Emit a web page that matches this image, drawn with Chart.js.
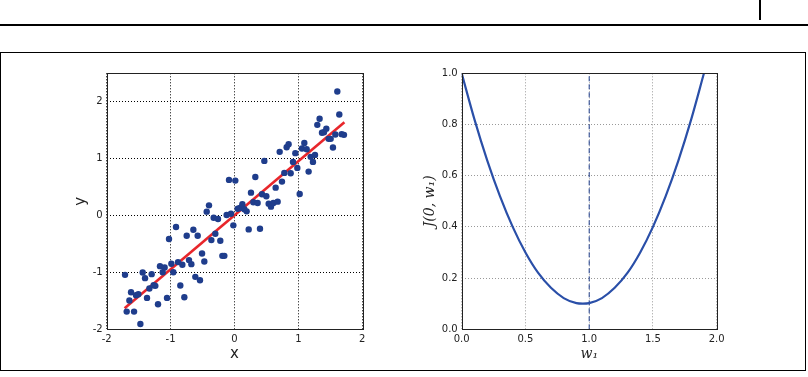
<!DOCTYPE html>
<html>
<head>
<meta charset="utf-8">
<script src="https://cdn.jsdelivr.net/npm/chart.js@4/dist/chart.umd.min.js"></script>
<style>
  body { margin: 0; background: #fff; width: 808px; height: 377px; position: relative; overflow: hidden; }
  #rule { position: absolute; left: 0; top: 24px; width: 808px; height: 2px; background: #000; }
  #mark { position: absolute; left: 759px; top: 0; width: 2px; height: 20px; background: #000; }
  #frame { position: absolute; left: 0; top: 52px; width: 804px; height: 317px; border: 1px solid #000; }
  .plot { position: absolute; top: 60px; width: 340px; height: 310px; }
  #left { left: 40px; }
  #right { left: 400px; }
</style>
</head>
<body>
<div id="rule"></div>
<div id="mark"></div>
<div id="frame"></div>
<div class="plot" id="left"><canvas id="scatter-chart"></canvas></div>
<div class="plot" id="right"><canvas id="cost-chart"></canvas></div>
<script>
const scatterX = [-1.713, -1.687, -1.645, -1.619, -1.572, -1.541, -1.505, -1.473, -1.437, -1.400,
  -1.369, -1.332, -1.296, -1.265, -1.239, -1.197, -1.166, -1.124, -1.093, -1.056,
  -1.025, -0.988, -0.957, -0.915, -0.884, -0.848, -0.816, -0.785, -0.748, -0.712,
  -0.675, -0.644, -0.613, -0.576, -0.540, -0.508, -0.472, -0.435, -0.399, -0.362,
  -0.326, -0.300, -0.258, -0.222, -0.190, -0.159, -0.123, -0.086, -0.055, -0.018,
  0.013, 0.050, 0.086, 0.123, 0.154, 0.190, 0.222, 0.258, 0.295, 0.326,
  0.362, 0.399, 0.430, 0.467, 0.498, 0.535, 0.571, 0.608, 0.644, 0.675,
  0.707, 0.743, 0.780, 0.816, 0.847, 0.879, 0.916, 0.952, 0.983, 1.020,
  1.056, 1.093, 1.129, 1.160, 1.192, 1.228, 1.260, 1.296, 1.332, 1.369,
  1.400, 1.437, 1.473, 1.505, 1.541, 1.578, 1.609, 1.640, 1.677, 1.713];
const scatterY = [-1.043, -1.689, -1.495, -1.348, -1.689, -1.401, -1.383, -1.906, -1.001, -1.101,
  -1.448, -1.283, -1.031, -1.225, -1.236, -1.559, -0.890, -0.996, -0.913, -1.448,
  -0.414, -0.849, -0.996, -0.203, -0.819, -1.230, -0.866, -1.436, -0.355, -0.784,
  -0.855, -0.250, -1.078, -0.355, -1.137, -0.667, -0.808, 0.068, 0.179, -0.432,
  -0.038, -0.320, -0.062, -0.444, -0.709, -0.709, 0.009, 0.626, 0.032, -0.173,
  0.614, 0.120, 0.132, 0.197, 0.109, 0.073, -0.244, 0.402, 0.232, 0.678,
  0.220, -0.232, 0.373, 0.960, 0.338, 0.209, 0.156, 0.220, 0.490, 0.244,
  1.119, 0.596, 0.749, 1.201, 1.254, 0.743, 0.943, 1.096, 0.837, 0.379,
  1.178, 1.277, 1.166, 0.772, 1.031, 0.943, 1.066, 1.594, 1.700, 1.454,
  1.465, 1.524, 1.348, 1.348, 1.195, 1.424, 2.181, 1.777, 1.430, 1.418];

// recta de regresión (extremos)
const fitX = [-1.72, 1.72];
const fitY = [-1.63, 1.64];

// curva de costo J(0, w1)
const w1Values = [0, 0.1, 0.2, 0.3, 0.4, 0.5, 0.6, 0.7, 0.8, 0.9, 0.95, 1.0, 1.1, 1.2, 1.3, 1.4, 1.5, 1.6, 1.7, 1.8, 1.9];
const costValues = [1.0, 0.82, 0.66, 0.52, 0.40, 0.30, 0.22, 0.162, 0.122, 0.102, 0.10, 0.102, 0.122, 0.162, 0.22, 0.30, 0.40, 0.52, 0.66, 0.82, 1.0];
const minLineX = [1.0, 1.0];
const minLineY = [0, 1.0];

// marcas de los ejes
const leftXTicks = [-2, -1, 0, 1, 2];
const leftYTicks = [-2, -1, 0, 1, 2];
const rightXTicks = [0, 0.5, 1.0, 1.5, 2.0];
const rightYTicks = [0, 0.2, 0.4, 0.6, 0.8, 1.0];

const toPoints = (xs, ys) => xs.map((x, i) => ({ x: x, y: ys[i] }));

const framePlugin = {
  id: 'frame',
  afterDraw(chart) {
    const a = chart.chartArea;
    const ctx = chart.ctx;
    ctx.save();
    ctx.strokeStyle = '#222';
    ctx.lineWidth = 1;
    ctx.strokeRect(Math.round(a.left) + 0.5, Math.round(a.top) + 0.5,
      Math.round(a.right - a.left), Math.round(a.bottom - a.top));
    ctx.restore();
  }
};

function axis(ticks, min, max, opts) {
  return {
    type: 'linear',
    min: min,
    max: max,
    afterBuildTicks: (s) => { s.ticks = ticks.map(v => ({ value: v })); },
    afterFit: opts.fit,
    grid: { color: opts.gridColor, lineWidth: 1, drawTicks: false },
    border: { display: false, dash: [1, 2] },
    ticks: {
      padding: 4,
      color: '#222',
      font: { family: 'DejaVu Sans', size: 10 },
      callback: opts.fmt
    },
    title: {
      display: true,
      text: opts.title,
      color: '#222',
      padding: opts.titlePad,
      font: opts.titleFont
    }
  };
}

Chart.defaults.animation = false;

new Chart(document.getElementById('scatter-chart'), {
  type: 'scatter',
  data: {
    datasets: [
      {
        label: 'datos',
        data: toPoints(scatterX, scatterY),
        backgroundColor: '#1f3d8c',
        borderColor: '#1f3d8c',
        pointRadius: 3.2,
        pointBorderWidth: 0
      },
      {
        label: 'ajuste',
        type: 'line',
        data: toPoints(fitX, fitY),
        borderColor: '#e8262b',
        borderWidth: 2.6,
        pointRadius: 0,
        fill: false
      }
    ]
  },
  plugins: [framePlugin],
  options: {
    responsive: true,
    maintainAspectRatio: false,
    layout: { padding: { left: 0, top: 13.3, right: 17.7, bottom: 0 } },
    plugins: { legend: { display: false }, tooltip: { enabled: false } },
    scales: {
      x: axis(leftXTicks, -2, 2, {
        gridColor: '#000', title: 'x', titlePad: { top: 0, bottom: 7 },
        titleFont: { family: 'DejaVu Sans', size: 15 },
        fit: (s) => { s.height = 40.7; }
      }),
      y: axis(leftYTicks, -2, 2.5, {
        gridColor: '#000', title: 'y', titlePad: { top: 32, bottom: 0 },
        titleFont: { family: 'DejaVu Sans', size: 15 },
        fit: (s) => { s.width = 66.7; }
      })
    }
  }
});

new Chart(document.getElementById('cost-chart'), {
  type: 'scatter',
  data: {
    datasets: [
      {
        label: 'J',
        type: 'line',
        data: toPoints(w1Values, costValues),
        borderColor: '#2a4fa8',
        borderWidth: 2.2,
        pointRadius: 0,
        cubicInterpolationMode: 'monotone',
        fill: false
      },
      {
        label: 'min',
        type: 'line',
        data: toPoints(minLineX, minLineY),
        borderColor: '#1f3d8c',
        borderWidth: 1,
        borderDash: [5, 3],
        pointRadius: 0,
        fill: false
      }
    ]
  },
  plugins: [framePlugin],
  options: {
    responsive: true,
    maintainAspectRatio: false,
    layout: { padding: { left: 0, top: 13.3, right: 23.3, bottom: 0 } },
    plugins: { legend: { display: false }, tooltip: { enabled: false } },
    scales: {
      x: axis(rightXTicks, 0, 2, {
        gridColor: '#999', title: 'w\u2081', titlePad: { top: 0, bottom: 7 },
        titleFont: { family: 'DejaVu Serif', size: 14, style: 'italic' },
        fmt: (v) => v.toFixed(1),
        fit: (s) => { s.height = 40.7; }
      }),
      y: axis(rightYTicks, 0, 1, {
        gridColor: '#999', title: 'J(0, w\u2081)', titlePad: { top: 22, bottom: 0 },
        titleFont: { family: 'DejaVu Serif', size: 14, style: 'italic' },
        fmt: (v) => v.toFixed(1),
        fit: (s) => { s.width = 61.7; }
      })
    }
  }
});
</script>
</body>
</html>
